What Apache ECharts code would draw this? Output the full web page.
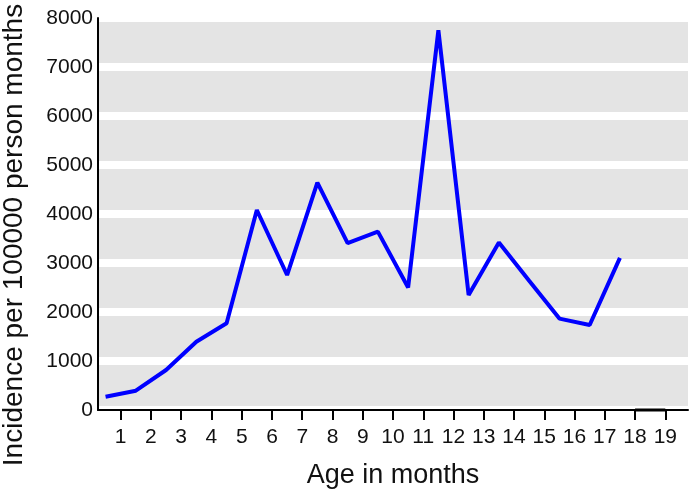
<!DOCTYPE html>
<html>
<head>
<meta charset="utf-8">
<script src="https://cdn.jsdelivr.net/npm/echarts@6/dist/echarts.min.js"></script>
<style>
  html, body { margin: 0; padding: 0; background: #ffffff; }
  #chart { width: 691px; height: 491px; }
</style>
</head>
<body>
<div id="chart"></div>
<script>
// Age (months, bin midpoints) and incidence per 100000 person months
const ages = [0.5, 1.5, 2.5, 3.5, 4.5, 5.5, 6.5, 7.5, 8.5, 9.5, 10.5, 11.5, 12.5, 13.5, 14.5, 15.5, 16.5, 17.5];
const incidence = [270, 394, 816, 1394, 1769, 4082, 2755, 4639, 3405, 3640, 2500, 7750, 2347, 3420, 2640, 1865, 1735, 3105];
// short flat segment drawn along the axis at months 18-19
const tailAges = [18, 19];
const tailValues = [0, 0];
// tick labels
const xTicks = [1, 2, 3, 4, 5, 6, 7, 8, 9, 10, 11, 12, 13, 14, 15, 16, 17, 18, 19];
const yTicks = [0, 1000, 2000, 3000, 4000, 5000, 6000, 7000, 8000];

const font = 'Liberation Sans, Arial, sans-serif';
const chart = echarts.init(document.getElementById('chart'), null, { renderer: 'canvas' });

chart.setOption({
  animation: false,
  backgroundColor: '#ffffff',
  grid: {
    left: 98, right: 3, top: 18, bottom: 81,
    outerBoundsMode: 'none', containLabel: false,
    show: true, backgroundColor: '#e4e4e4', borderWidth: 0
  },
  xAxis: {
    type: 'value',
    min: 0.25, max: 19.75,
    name: 'Age in months',
    nameLocation: 'middle',
    nameGap: 52,
    nameTextStyle: { fontFamily: font, fontSize: 27, color: '#111' },
    axisLine: { show: true, onZero: false, lineStyle: { color: '#000', width: 2 } },
    axisTick: { show: true, length: 10, lineStyle: { color: '#000', width: 2 }, customValues: xTicks },
    axisLabel: { fontFamily: font, fontSize: 21, color: '#111', margin: 17, customValues: xTicks },
    splitLine: { show: false }
  },
  yAxis: {
    type: 'value',
    min: yTicks[0], max: yTicks[yTicks.length - 1], interval: 1000,
    axisLine: { show: true, lineStyle: { color: '#000', width: 2 } },
    axisTick: { show: false },
    axisLabel: { fontFamily: font, fontSize: 21, color: '#111', margin: 5, formatter: v => String(v) },
    splitLine: { show: true, lineStyle: { color: '#ffffff', width: 8 } }
  },
  graphic: [{
    type: 'text',
    x: 14, y: 235,
    rotation: Math.PI / 2,
    style: {
      text: 'Incidence per 100000 person months',
      fontFamily: font, fontSize: 28, fill: '#111',
      align: 'center', verticalAlign: 'middle'
    }
  }],
  series: [{
    type: 'line',
    data: ages.map((a, i) => [a, incidence[i]]),
    showSymbol: false,
    lineStyle: { color: '#0000ff', width: 4 },
    clip: false
  }, {
    type: 'line',
    data: tailAges.map((a, i) => [a, tailValues[i]]),
    showSymbol: false,
    lineStyle: { color: '#000', width: 3 },
    clip: false,
    z: 5
  }]
});
</script>
</body>
</html>
